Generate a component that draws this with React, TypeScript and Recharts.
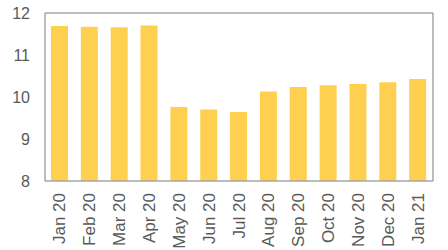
import React from "react";
import { BarChart, Bar, XAxis, YAxis, ReferenceLine } from "recharts";

const categories = ["Jan 20", "Feb 20", "Mar 20", "Apr 20", "May 20", "Jun 20", "Jul 20", "Aug 20", "Sep 20", "Oct 20", "Nov 20", "Dec 20", "Jan 21"];
const values = [11.69, 11.67, 11.66, 11.7, 9.76, 9.7, 9.64, 10.13, 10.24, 10.28, 10.31, 10.35, 10.43];
const yTicks = [8, 9, 10, 11, 12];

const data = categories.map((c, i) => ({ name: c, value: values[i] }));

const GRAY = "#A6A6A6";
const TEXT = "#595959";
const FONT = "Liberation Sans, Arial, sans-serif";

const XTick = (props: any) => {
  const { x, y, payload } = props;
  return (
    <text
      x={x}
      y={y}
      transform={`rotate(-90 ${x} ${y})`}
      textAnchor="end"
      dominantBaseline="central"
      fill={TEXT}
      fontSize={17}
      fontFamily={FONT}
    >
      {payload.value}
    </text>
  );
};

export default function App() {
  return (
    <div style={{ position: "absolute", left: 0, top: 0 }}>
      <BarChart
        width={448}
        height={250}
        data={data}
        margin={{ top: 13, right: 0, bottom: 0, left: 0 }}
        barSize={17}
      >
        <XAxis
          dataKey="name"
          height={69}
          interval={0}
          tickLine={false}
          tickSize={0}
          tickMargin={12}
          axisLine={{ stroke: GRAY, strokeWidth: 1.5 }}
          tick={<XTick />}
        />
        <YAxis
          yAxisId="left"
          domain={[8, 12]}
          ticks={yTicks}
          width={45}
          tickLine={false}
          tickSize={0}
          tickMargin={15}
          axisLine={{ stroke: GRAY, strokeWidth: 1.5 }}
          tick={{ fill: TEXT, fontSize: 16, fontFamily: FONT }}
        />
        <YAxis
          yAxisId="right"
          orientation="right"
          domain={[8, 12]}
          width={15}
          tick={false}
          tickLine={false}
          axisLine={{ stroke: GRAY, strokeWidth: 1.5 }}
        />
        <ReferenceLine yAxisId="left" y={12} stroke={GRAY} strokeWidth={1.5} />
        <Bar yAxisId="left" dataKey="value" fill="#FFD050" isAnimationActive={false} />
      </BarChart>
    </div>
  );
}
